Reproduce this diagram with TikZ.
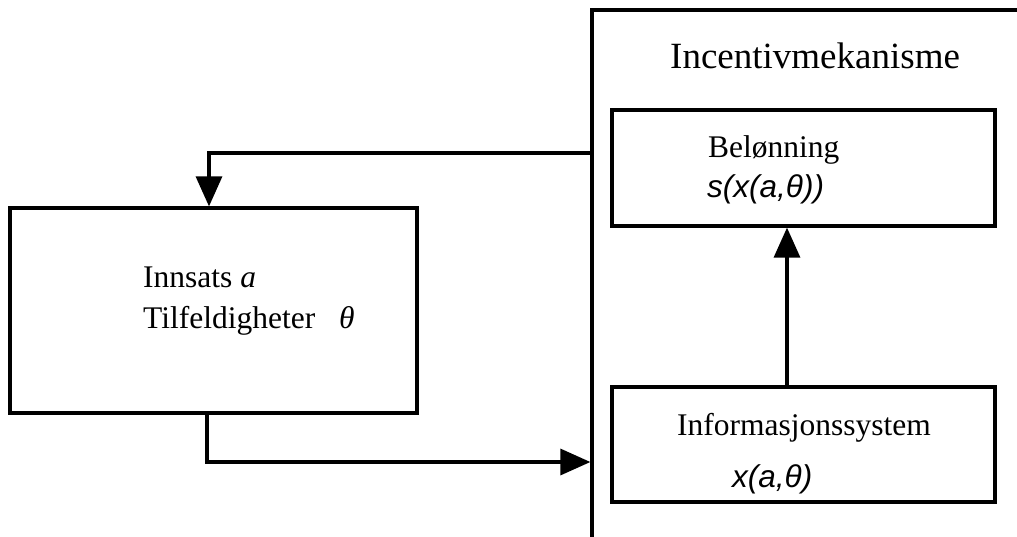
\documentclass[tikz,border=0pt]{standalone}
\usepackage{fontspec}
\setmainfont{Liberation Serif}
\newfontfamily\fsans{Liberation Sans}
\usetikzlibrary{arrows.meta,calc}
\begin{document}
\begin{tikzpicture}[x=1pt,y=-1pt,
  box/.style={draw,line width=3.2pt,rectangle,inner sep=0pt},
  arr/.style={line width=3.2pt,-{Triangle[length=30pt,width=26pt]}},
  txt/.style={anchor=base west,inner sep=0pt,font=\fontsize{31.5}{38}\selectfont},
  big/.style={anchor=base west,inner sep=0pt,font=\fontsize{37}{44}\selectfont}]
\useasboundingbox[fill=white] (0,0) rectangle (1017,536);
% boxes
\node[box,minimum width=453pt,minimum height=550pt] (O) at (818.5,285) {};
\node[box,minimum width=407pt,minimum height=205pt] (L) at (213.5,310.5) {};
\node[box,minimum width=383pt,minimum height=116pt] (B) at (803.5,168) {};
\node[box,minimum width=383pt,minimum height=115pt] (I) at (803.5,444.5) {};
% texts
\node[big] (t0) at (670,68) {Incentivmekanisme};
\node[txt] (t1) at (143,287) {Innsats \textit{a}};
\node[txt] (t2) at (143,328) {Tilfeldigheter};
\node[txt] (t3) at (339,328) {\textit{θ}};
\node[txt] (t4) at (708,157) {Belønning};
\node[txt] (t5) at (707,197) {\fsans\itshape s(x(a,θ))};
\node[txt] (t6) at (677,435) {Informasjonssystem};
\node[txt] (t7) at (732,487) {\fsans\itshape x(a,θ)};
% connectors
\coordinate (fb) at (O.west |- 0,153);
\coordinate (fbL) at ($(L.north)+(-4.5,0)$);
\draw[arr] (fb) -| (fbL);
\coordinate (outL) at ($(L.south)+(-6.5,0)$);
\coordinate (inO) at (O.west |- 0,462);
\draw[arr] (outL) |- (inO);
\draw[arr] (I.north -| 787,0) -- (B.south -| 787,0);
\end{tikzpicture}
\end{document}
